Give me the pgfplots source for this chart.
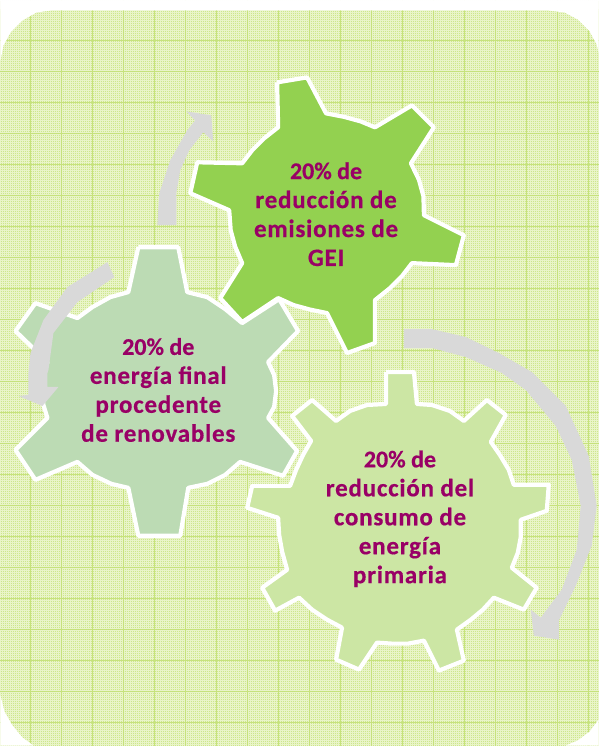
\documentclass[border=0pt]{standalone}
\usepackage{fontspec}
\setmainfont[BoldFeatures={FakeBold=0.5}]{Carlito}
\newfontfamily\lbl[LetterSpace=3.2,BoldFeatures={FakeBold=0.5}]{Carlito}
\usepackage{pgfplots}
\pgfplotsset{compat=1.18}
\definecolor{bgcol}{HTML}{CDE78C}
\definecolor{gridcol}{HTML}{C6E27C}
\definecolor{finecol}{HTML}{E9F4C8}
\definecolor{gearA}{HTML}{93D150}
\definecolor{gearB}{HTML}{BCDBB4}
\definecolor{gearC}{HTML}{CCE6A4}
\definecolor{arrowcol}{HTML}{D9D9D9}
\definecolor{txtcol}{HTML}{990066}
\newcommand{\first}{\fontsize{24}{29}\selectfont\rmfamily\bfseries 20\% de}
\begin{document}
\begin{tikzpicture}
\begin{axis}[
    scale only axis,
    width=599pt, height=746pt,
    xmin=0, xmax=599, ymin=0, ymax=746,
    y dir=reverse,
    axis line style={draw=none},
    tick style={draw=none},
    every tick label/.append style={overlay},
    xticklabels={}, yticklabels={},
    xtick={0.5,2.5,...,598.5},
    ytick={0.5,2.5,...,745.5},
    extra x ticks={30.5,61.5,92.5,123.5,154.5,185.5,216.5,247.5,278.5,309.5,340.5,371.5,402.5,433.5,464.5,495.5,526.5,557.5,588.5},
    extra y ticks={9.5,40.5,71.5,102.5,133.5,164.5,195.5,226.5,257.5,288.5,319.5,350.5,381.5,412.5,443.5,474.5,505.5,536.5,567.5,598.5,629.5,660.5,691.5,722.5},
    extra x tick labels={}, extra y tick labels={},
    extra tick style={grid=major, major grid style={draw=gridcol, line width=1pt}},
    grid=major,
    major grid style={draw=finecol, line width=1pt},
    axis background/.style={fill=bgcol},
    gear/.style={draw=white, line width=4.2pt, line join=round, mark=none},
    flat/.style={draw=none, mark=none},
]
% corners of the card
\addplot[flat, fill=white] coordinates {(0,0) (599,0) (599,10) (0,10) (0,0)};
\addplot[flat, fill=white] coordinates {(0,0) (50,0) (50,10) (36,12) (22,20) (10,32) (3,45) (0,60) (0,0)};
\addplot[flat, fill=white] coordinates {(599,0) (549,0) (549,10) (565,12) (578,19) (590,31) (597,44) (599,53) (599,0)};
\addplot[flat, fill=white] coordinates {(0,746) (0,696) (4,712) (12,726) (22,738) (33,746) (0,746)};
\addplot[flat, fill=white] coordinates {(599,746) (566,746) (578,741) (590,732) (599,720) (599,746)};

% gear, energia final
\addplot[gear, fill=gearB] coordinates {
(138,247) (178,247) (187,292) (207,297) (225,309) (242,323) (279,299) (298,331) (268,362)
(274,375) (276,391) (274,407) (268,418) (297,451) (283,476) (240,462) (225,475) (207,484)
(188,488) (180,536) (138,536) (128,488) (111,484) (92,475) (77,462) (35,480) (15,450)
(47,418) (43,405) (41,390) (43,376) (47,362) (15,331) (35,303) (77,318) (92,307) (110,297)
(128,292) (138,247)};

% gear, emisiones
\addplot[gear, fill=gearA] coordinates {
(277,82) (307,77) (326,113) (344,116.5) (360.5,121) (375,127) (412,105) (434,127) (411,163)
(419,179.5) (423.5,196) (424,215) (464,235) (456,265) (412,263) (402,276) (390,288) (375,300)
(375,343) (347,353) (327,313) (310,309.5) (293.5,305) (278,298) (242,322) (220,298) (242,263)
(235,246.5) (230.5,230) (229,210) (190,193) (197,162) (242,163) (252,150) (264,138) (278,127)
(277,82)};

% gear, consumo
\addplot[gear, fill=gearC] coordinates {
(386,372) (414,372) (417,404) (432,405) (450,411) (464,421) (487,400) (506,415) (491,442)
(500,455) (509,470) (514,485) (549,485) (547,511) (521,520) (521,537) (518,553) (512,568)
(537,588) (524,610) (494,598) (483,610) (471,620) (457,630) (464,661) (439,671) (424,641)
(408,644) (392,644) (377,643) (359,670) (336,660) (342,628) (327,620) (312,610) (299,598)
(275,611) (262,588) (287,570) (282,552) (279,535) (278,518) (247,508) (252,486) (290,486)
(296,470) (303,455) (311,441) (292,416) (312,400) (336,421) (350,411) (367,405) (386,404)
(386,372)};

% curved arrows
\addplot[flat, fill=arrowcol] coordinates {
(157,225) (159,193) (170,160) (187,130) (195,120) (186,111) (211,115) (213,141) (203,132)
(189,150) (180,170) (176,193) (176,225) (157,225)};
\addplot[flat, fill=arrowcol] coordinates {
(107,262) (67,287) (43,320) (30,353) (28,373) (28,395) (18,396) (42,406) (58,387) (47,387)
(47,373) (48,370) (53,333) (77,302) (114,277) (107,262)};
\addplot[flat, fill=arrowcol] coordinates {
(404,329) (432,329) (466,337) (499,353) (532,372) (566,406) (589,456) (597,506) (592,546)
(576,586) (559,621) (559,640) (534,636) (531,610) (541,618) (562,590) (577,550) (581,506)
(572,460) (556,426) (526,390) (502,373) (466,357) (432,348) (404,348) (404,329)};

\node[align=center, text=txtcol, font=\fontsize{25}{29}\selectfont\lbl\bfseries] at (axis cs:326,214)
  {{\first}\\reducción de\\emisiones de\\GEI};
\node[align=center, text=txtcol, font=\fontsize{25}{29}\selectfont\lbl\bfseries] at (axis cs:158,390)
  {{\first}\\energía final\\procedente\\de renovables};
\node[align=center, text=txtcol, font=\fontsize{25}{29}\selectfont\lbl\bfseries] at (axis cs:400,519)
  {{\first}\\reducción del\\consumo de\\energía\\primaria};
\end{axis}
\end{tikzpicture}
\end{document}
